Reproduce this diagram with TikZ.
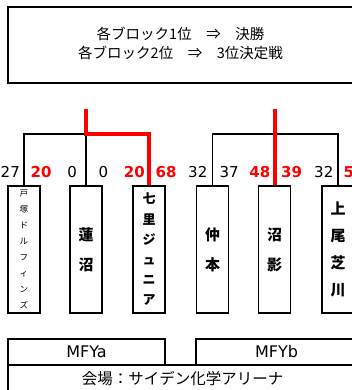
\documentclass[tikz,border=0pt]{standalone}
\usepackage{fontspec}
\setmainfont{DejaVu Sans}
\newfontfamily\jp{Noto Sans CJK JP}
\begin{document}
\begin{tikzpicture}[x=1pt,y=-1pt,
  team/.style={draw, line width=1.2pt, minimum width=32pt, minimum height=127pt, inner sep=0pt, align=center},
  bk/.style={line width=1.2pt},
  win/.style={line width=4pt, red},
  sc/.style={inner sep=0pt, font=\fontsize{15}{15}\selectfont},
  scw/.style={inner sep=0pt, red, font=\fontsize{15}{15}\selectfont\bfseries},
  frame/.style={draw, line width=1.3pt, inner sep=0pt},
  big/.style={font=\jp\bfseries\fontsize{15}{30}\selectfont}]
\useasboundingbox (0,0) rectangle (352,390);

% top rule box
\node[frame, line width=1.8pt, minimum width=349pt, minimum height=76pt] (rulebox) at (182.5,45) {};
\node[align=center, inner sep=0pt, font=\jp\fontsize{14.5}{19}\selectfont] (rule) at (180.5,43)
  {各ブロック1位　⇒　決勝\\各ブロック2位　⇒　3位決定戦};

% teams
\node[team, font=\jp\fontsize{8.5}{15.9}\selectfont] (t1) at (24,249.5) {戸\\塚\\ド\\ル\\フ\\ィ\\ン\\ズ};
\node[team, big] (t2) at (86,249.5) {蓮\\沼};
\node[team, font=\jp\bfseries\fontsize{13}{20.2}\selectfont] (t3) at (149,249.5) {七\\里\\ジ\\ュ\\ニ\\ア};
\node[team, big] (t4) at (212.5,249.5) {仲\\本};
\node[team, big] (t5) at (274.5,249.5) {沼\\影};
\node[team, font=\jp\bfseries\fontsize{15}{27}\selectfont] (t6) at (338,249.5) {上\\尾\\芝\\川};

% bracket coordinates
\coordinate (jA) at (86,134);
\coordinate (topA) at (86,109);
\coordinate (jB) at (274.5,134);
\coordinate (topB) at (274.5,109);

% black brackets
\draw[bk] (t1.north) -- (t1.north |- jA) -- (t3.north |- jA) -- (t3.north);
\draw[bk] (jA) -- (t2.north);
\draw[bk] (t4.north) -- (t4.north |- jB) -- (t6.north |- jB) -- (t6.north);

% winners in red
\draw[win] (topA) -- (jA) -- (t3.north |- jA) -- (t3.north);
\draw[win] (topB) -- (t5.north);

% scores
\node[sc, anchor=east] (s1) at (20,172) {27};
\node[scw, anchor=west] (s2) at (30.5,172) {20};
\node[sc, anchor=east] (s3) at (77,172) {0};
\node[sc, anchor=west] (s4) at (98.5,172) {0};
\node[scw, anchor=east] (s5) at (145,172) {20};
\node[scw, anchor=west] (s6) at (155.5,172) {68};
\node[sc, anchor=east] (s7) at (207.5,172) {32};
\node[sc, anchor=west] (s8) at (219.5,172) {37};
\node[scw, anchor=east] (s9) at (270.5,172) {48};
\node[scw, anchor=west] (s10) at (281,172) {39};
\node[sc, anchor=east] (s11) at (333.5,172) {32};
\node[scw, anchor=west] (s12) at (343.5,172) {5};

% bottom
\node[frame, minimum width=157pt, minimum height=26pt, font=\fontsize{16}{16}\selectfont] (mfya) at (86.5,352) {MFYa};
\node[frame, minimum width=161pt, minimum height=26pt, font=\fontsize{16}{16}\selectfont] (mfyb) at (276.5,352) {MFYb};
\node[frame, minimum width=349pt, minimum height=27pt, font=\jp\fontsize{15.5}{16}\selectfont] (venue) at (182.5,378.5) {会場：サイデン化学アリーナ};
\end{tikzpicture}
\end{document}
